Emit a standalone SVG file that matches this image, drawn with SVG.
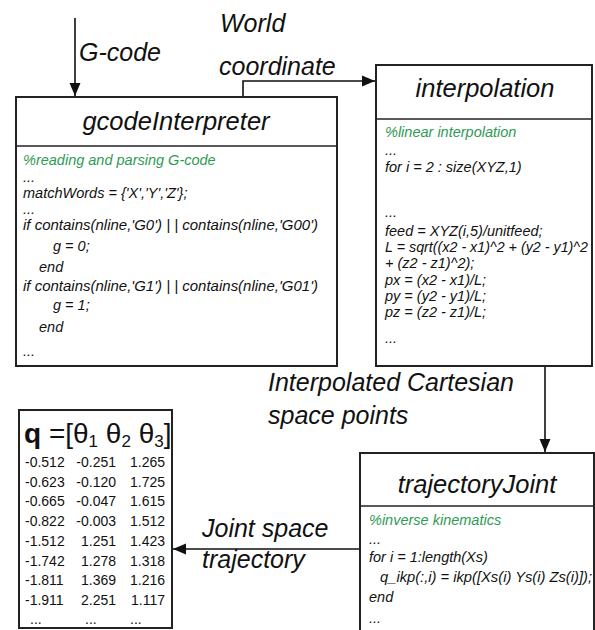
<svg xmlns="http://www.w3.org/2000/svg" width="595" height="630" viewBox="0 0 595 630">
<style>
.box{fill:#fff;stroke:#222;stroke-width:2}
.div{stroke:#222;stroke-width:1.6}
.title{font-family:"Liberation Sans",Arial,sans-serif;font-style:italic;font-size:25.5px;fill:#111;text-anchor:middle}
.code{font-family:"Liberation Sans",Arial,sans-serif;font-style:italic;font-size:14.5px;fill:#111}
.cmt{fill:#2f9a55}
.lbl{font-family:"Liberation Sans",Arial,sans-serif;font-style:italic;font-size:25px;fill:#111}
.num{font-family:"Liberation Sans",Arial,sans-serif;font-size:14px;fill:#111}
.conn{fill:none;stroke:#111;stroke-width:1.6}
</style>
<defs>
<marker id="ahb" viewBox="0 0 10 10" refX="10" refY="5" markerWidth="13" markerHeight="13" markerUnits="userSpaceOnUse" orient="auto">
<path d="M0,0.8 L10,5 L0,9.2 z" fill="#111"/>
</marker>
</defs>

<g id="connectors">
<path class="conn" d="M75,18 V96" marker-end="url(#ahb)"/>
<path class="conn" d="M243,97 V81 H375" marker-end="url(#ahb)"/>
<path class="conn" d="M545,366 V452" marker-end="url(#ahb)"/>
<path class="conn" d="M360,549 H173" marker-end="url(#ahb)"/>
<text class="lbl" x="79" y="61">G-code</text>
<text class="lbl" x="220" y="32">World</text>
<text class="lbl" x="219" y="75">coordinate</text>
<text class="lbl" x="268" y="391" font-size="27">Interpolated Cartesian</text>
<text class="lbl" x="268" y="424" font-size="27">space points</text>
<text class="lbl" x="202" y="537" font-size="26">Joint space</text>
<text class="lbl" x="202" y="568" font-size="26">trajectory</text>
</g>

<g id="gcodeInterpreter">
<rect class="box" x="16" y="97" width="321" height="269"/>
<line class="div" x1="16" y1="146" x2="337" y2="146"/>
<text class="title" x="176" y="130" font-size="26.5">gcodeInterpreter</text>
<text class="code cmt" x="23" y="165">%reading and parsing G-code</text>
<text class="code" x="23" y="182">...</text>
<text class="code" x="23" y="198">matchWords = {'X','Y','Z'};</text>
<text class="code" x="23" y="214">...</text>
<text class="code" x="23" y="230" textLength="295" lengthAdjust="spacingAndGlyphs">if contains(nline,'G0') | | contains(nline,'G00')</text>
<text class="code" x="53" y="251">g = 0;</text>
<text class="code" x="39" y="272">end</text>
<text class="code" x="23" y="291" textLength="295" lengthAdjust="spacingAndGlyphs">if contains(nline,'G1') | | contains(nline,'G01')</text>
<text class="code" x="53" y="310">g = 1;</text>
<text class="code" x="39" y="332">end</text>
<text class="code" x="23" y="356">...</text>
</g>

<g id="interpolation">
<rect class="box" x="376" y="65" width="216" height="301"/>
<line class="div" x1="376" y1="119" x2="592" y2="119"/>
<text class="title" x="485" y="97">interpolation</text>
<text class="code cmt" x="385" y="137">%linear interpolation</text>
<text class="code" x="385" y="155">...</text>
<text class="code" x="385" y="172">for i = 2 : size(XYZ,1)</text>
<text class="code" x="385" y="217">...</text>
<text class="code" x="385" y="236">feed = XYZ(i,5)/unitfeed;</text>
<text class="code" x="385" y="252" textLength="203" lengthAdjust="spacingAndGlyphs">L = sqrt((x2 - x1)^2 + (y2 - y1)^2</text>
<text class="code" x="385" y="268">+ (z2 - z1)^2);</text>
<text class="code" x="385" y="285">px = (x2 - x1)/L;</text>
<text class="code" x="385" y="301">py = (y2 - y1)/L;</text>
<text class="code" x="385" y="317">pz = (z2 - z1)/L;</text>
<text class="code" x="385" y="343">...</text>
</g>

<g id="trajectoryJoint">
<rect class="box" x="360" y="453" width="234" height="182"/>
<line class="div" x1="360" y1="506" x2="594" y2="506"/>
<text class="title" x="477" y="493">trajectoryJoint</text>
<text class="code cmt" x="369" y="525">%inverse kinematics</text>
<text class="code" x="369" y="544">...</text>
<text class="code" x="369" y="562">for i = 1:length(Xs)</text>
<text class="code" x="380" y="582" textLength="212" lengthAdjust="spacingAndGlyphs">q_ikp(:,i) = ikp([Xs(i) Ys(i) Zs(i)]);</text>
<text class="code" x="369" y="602">end</text>
<text class="code" x="369" y="623">...</text>
</g>

<g id="q">
<rect class="box" x="19" y="410" width="153" height="218"/>
<text x="24" y="443" font-family="Liberation Sans,Arial,sans-serif" font-size="28" fill="#111"><tspan font-weight="bold">q</tspan> =[θ<tspan font-size="17" dy="4">1</tspan><tspan dy="-4"> θ</tspan><tspan font-size="17" dy="4">2</tspan><tspan dy="-4"> θ</tspan><tspan font-size="17" dy="4">3</tspan><tspan dy="-4">]</tspan></text>
<g class="num">
<text x="25" y="467">-0.512</text><text x="116" y="467" text-anchor="end">-0.251</text><text x="165" y="467" text-anchor="end">1.265</text>
<text x="25" y="487">-0.623</text><text x="116" y="487" text-anchor="end">-0.120</text><text x="165" y="487" text-anchor="end">1.725</text>
<text x="25" y="506">-0.665</text><text x="116" y="506" text-anchor="end">-0.047</text><text x="165" y="506" text-anchor="end">1.615</text>
<text x="25" y="526">-0.822</text><text x="116" y="526" text-anchor="end">-0.003</text><text x="165" y="526" text-anchor="end">1.512</text>
<text x="25" y="546">-1.512</text><text x="116" y="546" text-anchor="end">1.251</text><text x="165" y="546" text-anchor="end">1.423</text>
<text x="25" y="566">-1.742</text><text x="116" y="566" text-anchor="end">1.278</text><text x="165" y="566" text-anchor="end">1.318</text>
<text x="25" y="585">-1.811</text><text x="116" y="585" text-anchor="end">1.369</text><text x="165" y="585" text-anchor="end">1.216</text>
<text x="25" y="605">-1.911</text><text x="116" y="605" text-anchor="end">2.251</text><text x="165" y="605" text-anchor="end">1.117</text>
<text x="30" y="624">...</text><text x="85" y="624">...</text><text x="130" y="624">...</text>
</g>
</g>
</svg>
